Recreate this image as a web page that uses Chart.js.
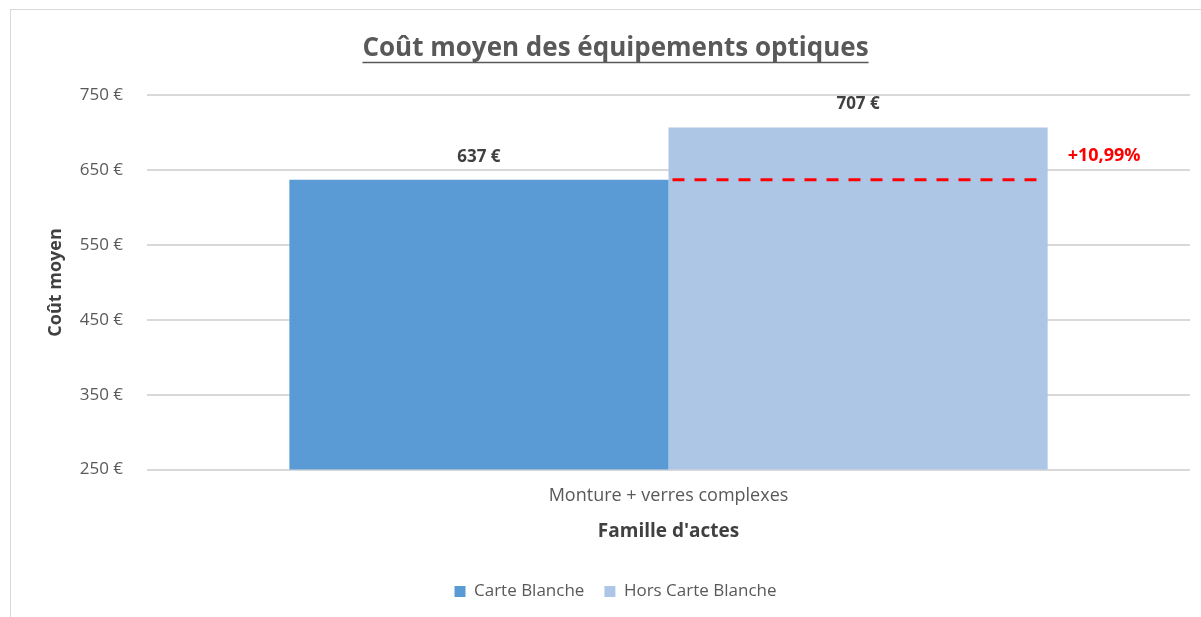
<!DOCTYPE html>
<html>
<head>
<meta charset="utf-8">
<script src="https://cdn.jsdelivr.net/npm/chart.js@4.4.0/dist/chart.umd.min.js"></script>
<style>
  html, body { margin: 0; padding: 0; background: #fff; }
  #wrap { position: relative; width: 1201px; height: 617px; overflow: hidden; }
  #frame { position: absolute; left: 10px; top: 9px; width: 1300px; height: 700px; border: 1px solid #d9d9d9; }
  #c { position: absolute; left: 0; top: 0; }
</style>
</head>
<body>
<div id="wrap">
  <div id="frame"></div>
  <canvas id="c" width="1201" height="617"></canvas>
</div>
<script>
const categories = ['Monture + verres complexes'];
const seriesNames = ['Carte Blanche', 'Hors Carte Blanche'];
const carteBlanche = [637];
const horsCarteBlanche = [707];
const yTicks = [250, 350, 450, 550, 650, 750];

const grey = '#595959';
const font = "'Open Sans', sans-serif";
const titleSize = 26;

const fmtEuro = v => v + ' €';
const ecart = (horsCarteBlanche[0] - carteBlanche[0]) / carteBlanche[0] * 100;
const ecartLabel = '+' + ecart.toFixed(2).replace('.', ',') + '%';

// value labels, dashed reference line, underline of title
const extras = {
  id: 'extras',
  afterDatasetsDraw(chart) {
    const ctx = chart.ctx;
    const y = chart.scales.y;
    ctx.save();
    ctx.font = "bold 17px " + font;
    ctx.fillStyle = '#404040';
    ctx.textAlign = 'center';
    ctx.textBaseline = 'middle';
    chart.data.datasets.forEach((ds, i) => {
      chart.getDatasetMeta(i).data.forEach((bar, j) => {
        ctx.fillText(fmtEuro(ds.data[j]), bar.x, bar.y - 23);
      });
    });

    // dashed line at "Carte Blanche" level across second bar
    const b2 = chart.getDatasetMeta(1).data[0];
    const yRef = y.getPixelForValue(carteBlanche[0]);
    ctx.strokeStyle = '#ff0000';
    ctx.lineWidth = 3;
    ctx.setLineDash([12, 10]);
    ctx.beginPath();
    ctx.moveTo(b2.x - b2.width / 2 + 4, yRef);
    ctx.lineTo(b2.x + b2.width / 2 - 3, yRef);
    ctx.stroke();
    ctx.setLineDash([]);

    ctx.fillStyle = '#ff0000';
    ctx.font = "bold 18px " + font;
    ctx.textAlign = 'left';
    ctx.fillText(ecartLabel, b2.x + b2.width / 2 + 20, yRef - 24);

    // underline title
    const tb = chart.titleBlock;
    if (tb) {
      ctx.font = "bold " + titleSize + "px " + font;
      const w = ctx.measureText(chart.options.plugins.title.text).width;
      const cx = (tb.left + tb.right) / 2;
      const ty = tb.top + tb.options.padding.top + titleSize * 0.6 + 14;
      ctx.strokeStyle = grey;
      ctx.lineWidth = 1.5;
      ctx.beginPath();
      ctx.moveTo(cx - w / 2, ty);
      ctx.lineTo(cx + w / 2, ty);
      ctx.stroke();
    }
    ctx.restore();
  }
};

new Chart(document.getElementById('c').getContext('2d'), {
  type: 'bar',
  data: {
    labels: categories,
    datasets: [
      { label: seriesNames[0], data: carteBlanche, backgroundColor: '#5b9bd5' },
      { label: seriesNames[1], data: horsCarteBlanche, backgroundColor: '#adc6e5' }
    ]
  },
  options: {
    responsive: false,
    animation: false,
    layout: { padding: { left: 41, right: 11, top: 0, bottom: 7 } },
    datasets: { bar: { categoryPercentage: 0.727, barPercentage: 1 } },
    plugins: {
      title: {
        display: true,
        text: 'Coût moyen des équipements optiques',
        color: grey,
        font: { family: font, size: titleSize, weight: 'bold' },
        padding: { top: 33, bottom: 31 }
      },
      legend: {
        position: 'bottom',
        labels: {
          color: grey,
          font: { family: font, size: 17 },
          boxWidth: 11,
          boxHeight: 11,
          padding: 20
        }
      },
      tooltip: { enabled: false }
    },
    scales: {
      x: {
        grid: { display: false, drawTicks: false },
        border: { display: false },
        ticks: { color: grey, font: { family: font, size: 18 }, padding: 15 },
        title: {
          display: true,
          text: "Famille d'actes",
          color: '#404040',
          font: { family: font, size: 19, weight: 'bold' },
          padding: { top: -1, bottom: 20 }
        }
      },
      y: {
        min: 250,
        max: 750,
        afterBuildTicks: s => { s.ticks = yTicks.map(v => ({ value: v })); },
        grid: { color: '#d9d9d9', lineWidth: 2, drawTicks: false },
        border: { display: false },
        ticks: { color: grey, font: { family: font, size: 17 }, padding: 24, callback: v => fmtEuro(v) },
        title: {
          display: true,
          text: 'Coût moyen',
          color: '#404040',
          font: { family: font, size: 18, weight: 'bold' },
          padding: { top: 4, bottom: 6 }
        },
        afterFit: s => { s.width = 147 - 41; }
      }
    }
  },
  plugins: [extras]
});
</script>
</body>
</html>
